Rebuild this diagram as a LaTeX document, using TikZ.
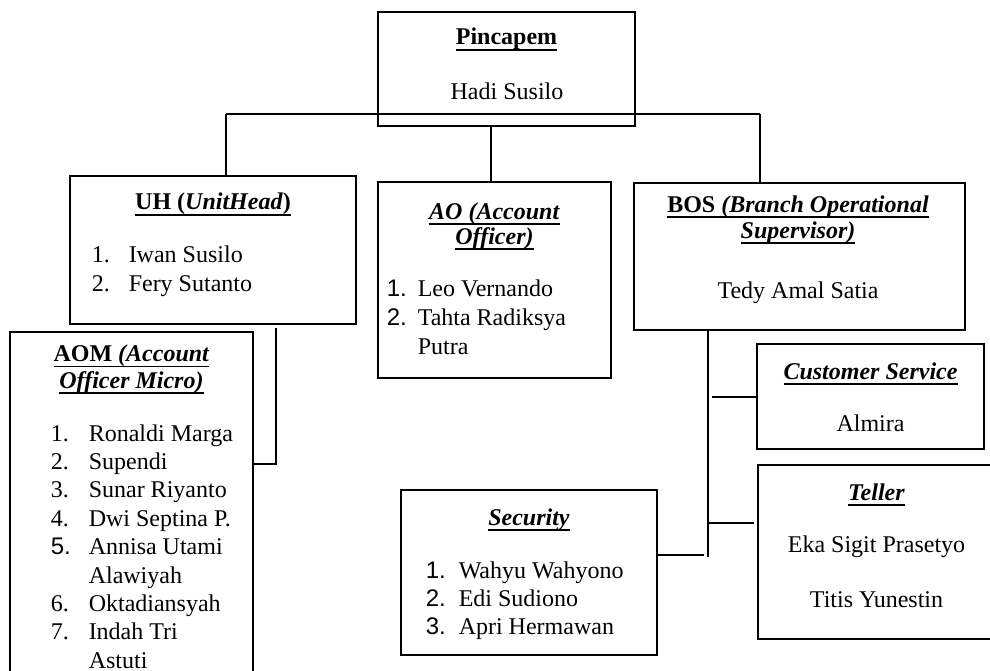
\documentclass[tikz,border=0pt]{standalone}
\usepackage{fontspec}
\setmainfont{Liberation Serif}
\newfontfamily\arialf{Liberation Sans}
\newcommand\ulx[1]{\sbox0{#1}\rlap{\rule[-5.6pt]{\wd0}{1.8pt}}\usebox0}
\begin{document}
\begin{tikzpicture}[x=1pt,y=-1pt,
  font=\fontsize{24}{28.4}\selectfont,
  line width=1.5pt,
  box/.style={draw, rectangle, inner sep=0pt, outer sep=0pt},
  txt/.style={anchor=base, inner sep=0pt},
  itm/.style={anchor=base west, inner sep=0pt}]
\useasboundingbox (0,0) rectangle (990,671);

% boxes
\node[box, minimum width=257pt, minimum height=114pt] (pin) at (506.5,69) {};
\node[box, minimum width=286pt, minimum height=148pt] (uh) at (213,250) {};
\node[box, minimum width=233pt, minimum height=196pt] (ao) at (494.5,280) {};
\node[box, minimum width=331pt, minimum height=147pt] (bos) at (799.5,256.5) {};
\node[box, minimum width=243pt, minimum height=368pt] (aom) at (131.5,516) {};
\node[box, minimum width=227pt, minimum height=105pt] (cs) at (870.5,396.5) {};
\node[box, minimum width=238pt, minimum height=174pt] (tel) at (877,552) {};
\node[box, minimum width=256pt, minimum height=165pt] (sec) at (529,572.5) {};

% Pincapem
\node[txt] (pint) at (506.5,45) {\ulx{\textbf{Pincapem}}};
\node[txt] (pinn) at (507,99.3) {Hadi Susilo};

% UH
\node[txt] (uht) at (213,210) {\ulx{\textbf{UH (\textit{UnitHead})}}};
\node[itm] (uh1n) at (91,262.7) {1.};
\node[itm] (uh1) at (128,262.7) {Iwan Susilo};
\node[itm] (uh2n) at (91,291) {2.};
\node[itm] (uh2) at (128,291) {Fery Sutanto};

% AO
\node[txt] (aot1) at (494.5,219.3) {\ulx{\textbf{\textit{AO (Account}}}};
\node[txt] (aot2) at (494.5,244.5) {\ulx{\textbf{\textit{Officer)}}}};
\node[itm] (ao1n) at (386,296.7) {\arialf 1.};
\node[itm] (ao1) at (417,296.7) {Leo Vernando};
\node[itm] (ao2n) at (386,325) {\arialf 2.};
\node[itm] (ao2) at (417,325) {Tahta Radiksya};
\node[itm] (ao3) at (417,354) {Putra};

% BOS
\node[txt] (bost1) at (798,212.3) {\ulx{\textbf{BOS \textit{(Branch Operational}}}};
\node[txt] (bost2) at (798,238.3) {\ulx{\textbf{\textit{Supervisor)}}}};
\node[txt] (bosn) at (798,298) {Tedy Amal Satia};

% AOM
\node[txt] (aomt1) at (131.5,361.7) {\ulx{\textbf{AOM \textit{(Account}}}};
\node[txt] (aomt2) at (131.5,388) {\ulx{\textbf{\textit{Officer Micro)}}}};
\node[itm] (m1n) at (50,441) {1.};
\node[itm] (m1) at (88,441) {Ronaldi Marga};
\node[itm] (m2n) at (50,469.4) {2.};
\node[itm] (m2) at (88,469.4) {Supendi};
\node[itm] (m3n) at (50,497.8) {3.};
\node[itm] (m3) at (88,497.8) {Sunar Riyanto};
\node[itm] (m4n) at (50,526.2) {4.};
\node[itm] (m4) at (88,526.2) {Dwi Septina P.};
\node[itm] (m5n) at (50,554.6) {\arialf 5.};
\node[itm] (m5) at (88,554.6) {Annisa Utami};
\node[itm] (m5b) at (88,583) {Alawiyah};
\node[itm] (m6n) at (50,611.4) {6.};
\node[itm] (m6) at (88,611.4) {Oktadiansyah};
\node[itm] (m7n) at (50,639.8) {7.};
\node[itm] (m7) at (88,639.8) {Indah Tri};
\node[itm] (m7b) at (88,668.2) {Astuti};

% Customer Service
\node[txt] (cst) at (870.5,379) {\ulx{\textbf{\textit{Customer Service}}}};
\node[txt] (csn) at (870.5,431.7) {Almira};

% Teller
\node[txt] (telt) at (876.5,500) {\ulx{\textbf{\textit{Teller}}}};
\node[txt] (tel1) at (876.5,552) {Eka Sigit Prasetyo};
\node[txt] (tel2) at (876.5,607) {Titis Yunestin};

% Security
\node[txt] (sect) at (529,525) {\ulx{\textbf{\textit{Security}}}};
\node[itm] (s1n) at (425,578) {\arialf 1.};
\node[itm] (s1t) at (458,578) {Wahyu Wahyono};
\node[itm] (s2n) at (425,606) {\arialf 2.};
\node[itm] (s2t) at (458,606) {Edi Sudiono};
\node[itm] (s3n) at (425,634) {\arialf 3.};
\node[itm] (s3t) at (458,634) {Apri Hermawan};

% connectors
\coordinate (j1) at (226,114);
\coordinate (j2) at (760,114);
\draw (j1) -- (j2);
\draw (j1) -- (j1 |- uh.north);
\draw (j2) -- (j2 |- bos.north);
\coordinate (j3) at (491,0);
\draw (j3 |- pin.south) -- (j3 |- ao.north);

\coordinate (u1) at (276,328);
\coordinate (u2) at (276,464);
\draw (u1) -- (u2) -- (u2 -| aom.east);

\coordinate (b1) at (708,0);
\coordinate (b2) at (708,557);
\draw (b1 |- bos.south) -- (b2);
\coordinate (c1) at (712,397);
\draw (c1) -- (c1 -| cs.west);
\coordinate (t1) at (708,523);
\coordinate (t2) at (754,523);
\draw (t1) -- (t2);
\coordinate (sc) at (704,555);
\draw (sc -| sec.east) -- (sc);
\end{tikzpicture}
\end{document}
